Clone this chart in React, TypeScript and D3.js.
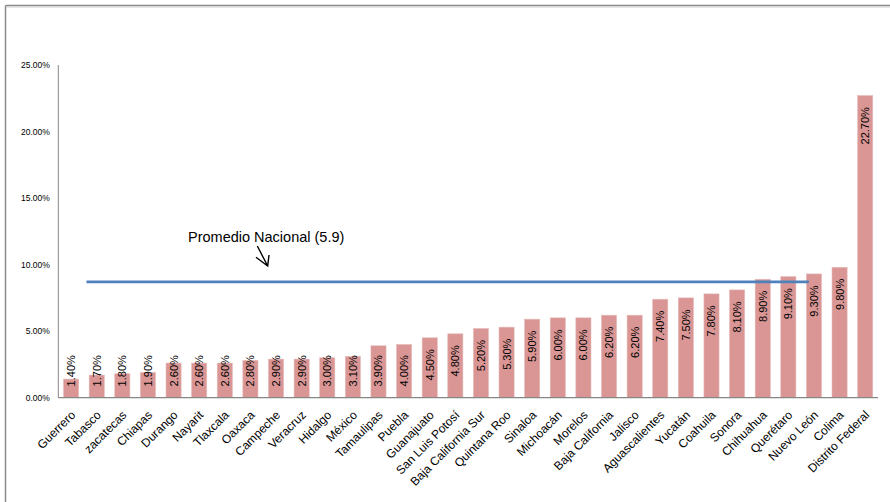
import React from "react";
import * as d3 from "d3";

// Tasa por entidad federativa (%), ordenada de menor a mayor
const estados: string[] = [
  "Guerrero", "Tabasco", "zacatecas", "Chiapas", "Durango", "Nayarit", "Tlaxcala",
  "Oaxaca", "Campeche", "Veracruz", "Hidalgo", "México", "Tamaulipas", "Puebla",
  "Guanajuato", "San Luis Potosí", "Baja California Sur", "Quintana Roo", "Sinaloa",
  "Michoacán", "Morelos", "Baja California", "Jalisco", "Aguascalientes", "Yucatán",
  "Coahuila", "Sonora", "Chihuahua", "Querétaro", "Nuevo León", "Colima", "Distrito Federal",
];
const valores: number[] = [
  1.4, 1.7, 1.8, 1.9, 2.6, 2.6, 2.6, 2.8, 2.9, 2.9, 3.0, 3.1, 3.9, 4.0, 4.5, 4.8,
  5.2, 5.3, 5.9, 6.0, 6.0, 6.2, 6.2, 7.4, 7.5, 7.8, 8.1, 8.9, 9.1, 9.3, 9.8, 22.7,
];
const yTicks: number[] = [0, 5, 10, 15, 20, 25];

// Línea horizontal de referencia y su rótulo
const promedioTexto = "Promedio Nacional (5.9)";
const nivelLinea = 8.7;
const lineaDesde = 1.1; // en pasos de categoría desde el eje
const lineaHasta = 29.3;

const W = 890;
const H = 502;
const left = 58.3;
const right = 878;
const top = 65;
const bottom = 397.7;

const FONT = "'Liberation Sans', Arial, sans-serif";

export default function App() {
  const x = d3.scaleBand<string>().domain(estados).range([left, right]).paddingInner(0.41).paddingOuter(0.205);
  const y = d3.scaleLinear().domain([0, 25]).range([bottom, top]);
  const step = x.step();
  const bw = x.bandwidth();
  const fmt = (v: number) => v.toFixed(2) + "%";

  const yLine = y(nivelLinea);
  const x0 = left + lineaDesde * step;
  const x1 = left + lineaHasta * step;

  return (
    <div style={{ position: "fixed", left: 0, top: 0 }}>
      <svg width={W} height={H} style={{ display: "block", background: "#fff" }}>
        {/* marco */}
        <line x1={5.5} y1={5.5} x2={W} y2={5.5} stroke="#8a8a8a" strokeWidth={1.5} />
        <line x1={5.5} y1={5.5} x2={5.5} y2={H} stroke="#8a8a8a" strokeWidth={1.5} />
        <line x1={6.5} y1={7} x2={W} y2={7} stroke="#d0d0d0" strokeWidth={1} />

        {/* eje Y */}
        <line x1={left} y1={top} x2={left} y2={bottom} stroke="#868686" strokeWidth={1} />
        {yTicks.map((t) => (
          <text key={t} x={left - 8.5} y={y(t) + 3} textAnchor="end" fontFamily={FONT} fontSize={8.5} fill="#000">
            {fmt(t)}
          </text>
        ))}

        {/* barras */}
        {estados.map((e, i) => (
          <rect key={e} x={x(e)} y={y(valores[i])} width={bw} height={bottom - y(valores[i])} fill="#D99694" stroke="#e6b9b8" strokeWidth={0.6} />
        ))}

        {/* eje X */}
        <line x1={left} y1={bottom} x2={right} y2={bottom} stroke="#868686" strokeWidth={1.2} />

        {/* etiquetas de valor */}
        {estados.map((e, i) => {
          const cx = (x(e) as number) + bw / 2 + 4;
          const yEnd = Math.min(y(valores[i]) + 11.5, y(0) - 42.5);
          return (
            <text key={e} transform={`translate(${cx},${yEnd}) rotate(-90)`} textAnchor="end" fontFamily={FONT} fontSize={11} fill="#000">
              {fmt(valores[i])}
            </text>
          );
        })}

        {/* nombres de entidades */}
        {estados.map((e) => {
          const cx = (x(e) as number) + bw / 2 + 5;
          return (
            <text key={e} transform={`translate(${cx},${bottom + 18}) rotate(-45)`} textAnchor="end" fontFamily={FONT} fontSize={12} fill="#000">
              {e}
            </text>
          );
        })}

        {/* línea de promedio */}
        <line x1={x0} y1={yLine} x2={x1} y2={yLine} stroke="#4F81BD" strokeWidth={2.6} />
        <text x={188} y={242.3} fontFamily={FONT} fontSize={14.5} fill="#000">{promedioTexto}</text>
        <path d="M257.3,246 L267.7,266 M256,257.3 L267.7,266 L269,255" fill="none" stroke="#000" strokeWidth={1.4} />
      </svg>
    </div>
  );
}
